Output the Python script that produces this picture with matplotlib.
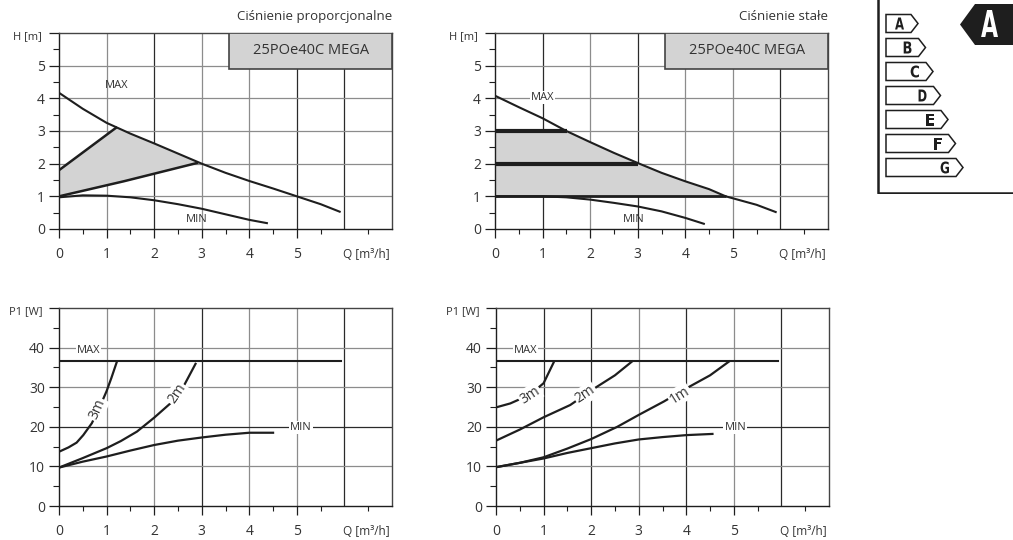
import numpy as np
import matplotlib.pyplot as plt
from matplotlib.patches import Rectangle, Polygon, PathPatch
from matplotlib.textpath import TextPath
from matplotlib.font_manager import FontProperties
from matplotlib.transforms import Affine2D

plt.rcParams["font.family"] = ["Open Sans", "DejaVu Sans"]

# ---- data ----
# top left: proportional pressure, H [m]
q_max_tl = [0, 0.5, 1, 1.5, 2, 2.5, 3, 3.5, 4, 4.5, 5, 5.5, 5.9]
h_max_tl = [4.17, 3.68, 3.25, 2.92, 2.62, 2.31, 2.0, 1.72, 1.47, 1.24, 1.0, 0.76, 0.53]
q_min_tl = [0, 0.5, 1, 1.5, 2, 2.5, 3, 3.5, 4, 4.37]
h_min_tl = [0.97, 1.03, 1.02, 0.97, 0.88, 0.76, 0.62, 0.45, 0.28, 0.18]
q_prop_hi = [0, 1.2]
h_prop_hi = [1.8, 3.1]
q_prop_lo = [0, 1.36, 2.9]
h_prop_lo = [1.0, 1.46, 2.02]

# top right: constant pressure, H [m]
q_max_tr = [0, 0.5, 1, 1.5, 2, 2.5, 3, 3.5, 4, 4.5, 4.85, 5.5, 5.9]
h_max_tr = [4.08, 3.73, 3.39, 3.0, 2.66, 2.33, 2.02, 1.72, 1.46, 1.22, 1.0, 0.74, 0.52]
q_min_tr = [0, 0.5, 1, 1.5, 2, 2.5, 3, 3.5, 4, 4.39]
h_min_tr = [1.0, 1.0, 1.0, 0.97, 0.9, 0.8, 0.69, 0.54, 0.34, 0.16]
h_const = [3, 2, 1]
q_const_end = [1.52, 3.0, 4.85]

# bottom left: power, proportional
p_max = 36.5
q_max_end = 5.93
q_3m_bl = [0, 0.2, 0.37, 0.51, 0.69, 0.86, 1.0, 1.1, 1.21]
p_3m_bl = [13.7, 14.8, 16.0, 17.9, 20.9, 25.1, 29.0, 32.3, 36.2]
q_2m_bl = [0, 0.5, 1, 1.3, 1.64, 2, 2.34, 2.6, 2.87]
p_2m_bl = [9.7, 12.1, 14.6, 16.4, 18.8, 22.3, 25.9, 29.8, 35.9]
q_min_bl = [0, 0.5, 1, 1.5, 2, 2.5, 3, 3.5, 4, 4.5]
p_min_bl = [9.7, 11.2, 12.5, 14.0, 15.4, 16.5, 17.3, 18.0, 18.5, 18.5]

# bottom right: power, constant
q_3m_br = [0, 0.3, 0.6, 0.8, 1.0, 1.21]
p_3m_br = [24.9, 25.9, 27.5, 29.0, 31.0, 36.2]
q_2m_br = [0, 0.5, 1, 1.56, 2.12, 2.5, 2.86]
p_2m_br = [16.5, 19.3, 22.4, 25.5, 30.1, 33.0, 36.5]
q_1m_br = [0, 0.5, 1, 1.5, 2, 2.55, 3, 3.53, 4, 4.5, 4.9]
p_1m_br = [9.8, 10.9, 12.3, 14.5, 16.9, 20.0, 23.0, 26.4, 29.7, 33.0, 36.5]
q_min_br = [0, 0.5, 1, 1.5, 2, 2.5, 3, 3.5, 4, 4.55]
p_min_br = [9.8, 10.9, 12.0, 13.4, 14.6, 15.8, 16.8, 17.4, 17.9, 18.2]

energy_classes = ["A", "B", "C", "D", "E", "F", "G"]
pump_class = "A"
model_name = "25POe40C MEGA"

INK = "#1e1e1e"
TXT = "#333333"
DARK = "#2a2a2a"
LIGHT = "#8c8c8c"
SHADE = "#d3d3d3"


def setup_axes(ax, ymax, ystep, ylabel, vdark, hdark):
    ax.set_xlim(0, 7)
    ax.set_ylim(0, ymax)
    for q in range(1, 7):
        ax.axvline(q, color=DARK if q in vdark else LIGHT, lw=0.9, zorder=0)
    for h in np.arange(ystep, ymax, ystep):
        ax.axhline(h, color=DARK if h in hdark else LIGHT, lw=0.9, zorder=0)
    for s in ax.spines.values():
        s.set_color("#444444")
        s.set_linewidth(1.0)
    ax.spines["left"].set_color(INK)
    ax.spines["bottom"].set_color(INK)
    ax.set_yticks(np.arange(0, ymax + ystep / 2, ystep))
    ax.set_yticklabels([str(int(v)) for v in np.arange(0, ymax, ystep)] + [""])
    ax.set_yticks(np.arange(ystep / 2, ymax, ystep), minor=True)
    ax.set_xticks(range(0, 6))
    ax.set_xticklabels([str(v) for v in range(0, 6)])
    ax.set_xticks(np.arange(0.5, 7, 1.0), minor=True)
    ax.tick_params(axis="y", which="major", length=7, width=0.9, color=INK,
                   labelsize=10, labelcolor=TXT, pad=3)
    ax.tick_params(axis="y", which="minor", length=4, width=0.8, color=INK)
    ax.tick_params(axis="x", which="major", length=6.5, width=0.9, color=INK,
                   labelsize=10, labelcolor=TXT, pad=6.5)
    ax.tick_params(axis="x", which="minor", length=3.5, width=0.8, color=INK)
    ax.text(-0.05, 1.01, ylabel, transform=ax.transAxes, ha="right", va="top",
            fontsize=8, color=TXT)
    ax.annotate("Q [m³/h]", xy=(6.46, 0), xycoords=("data", "axes fraction"),
                xytext=(0, -13.5), textcoords="offset points",
                ha="center", va="top", fontsize=8.5, color=TXT)


def model_box(ax):
    ax.add_patch(Rectangle((3.58, 4.9), 3.42, 1.1, facecolor=SHADE,
                           edgecolor="#444444", lw=1.2, zorder=3))
    ax.text(5.29, 5.45, model_name, ha="center", va="center", fontsize=10.5,
            color=TXT, zorder=4)


def label(ax, x, y, s, rot=0, fs=8):
    ax.text(x, y, s, ha="center", va="center", rotation=rot, fontsize=fs,
            color=TXT, zorder=5, rotation_mode="anchor",
            bbox=dict(boxstyle="square,pad=0.1", fc="white", ec="none"))


def glyph(ax, s, x0, x1, y0, y1, color):
    # condensed bold letter squeezed into a pixel box (y axis points down)
    tp = TextPath((0, 0), s, size=10,
                  prop=FontProperties(family="DejaVu Sans", weight="bold"))
    v = tp.vertices
    bx0, by0 = v[:, 0].min(), v[:, 1].min()
    bx1, by1 = v[:, 0].max(), v[:, 1].max()
    tr = (Affine2D().translate(-bx0, -by0)
          .scale((x1 - x0) / (bx1 - bx0), -(y1 - y0) / (by1 - by0))
          .translate(x0, y1))
    ax.add_patch(PathPatch(tr.transform_path(tp), facecolor=color,
                           edgecolor="none", zorder=5))


fig = plt.figure(figsize=(10.13, 5.40), dpi=100)
W, H = 1013, 540
ax_tl = fig.add_axes([59 / W, 1 - 229 / H, 333 / W, 196 / H])
ax_tr = fig.add_axes([495 / W, 1 - 229 / H, 333 / W, 196 / H])
ax_bl = fig.add_axes([59 / W, 1 - 506 / H, 333 / W, 198 / H])
ax_br = fig.add_axes([496 / W, 1 - 506 / H, 333 / W, 198 / H])

# top left
ax = ax_tl
setup_axes(ax, 6, 1, "H [m]", vdark=[2, 5, 6], hdark=[])
model_box(ax)
ax.text(1.0, 1.05, "Ciśnienie proporcjonalne", transform=ax.transAxes,
        ha="right", va="bottom", fontsize=9.5, color=TXT)
qq = np.linspace(1.2, 2.9, 20)
top = np.interp(qq, q_max_tl, h_max_tl)
poly = ([(q_prop_hi[0], h_prop_hi[0]), (q_prop_hi[1], h_prop_hi[1])]
        + list(zip(qq, top))
        + list(zip(q_prop_lo[::-1], h_prop_lo[::-1])))
ax.add_patch(Polygon(poly, closed=True, facecolor=SHADE, edgecolor="none", zorder=1))
ax.plot(q_max_tl, h_max_tl, color=INK, lw=1.5, zorder=4)
ax.plot(q_min_tl, h_min_tl, color=INK, lw=1.5, zorder=4)
ax.plot(q_prop_hi, h_prop_hi, color=INK, lw=1.8, zorder=4)
ax.plot(q_prop_lo, h_prop_lo, color=INK, lw=1.8, zorder=4)
ax.text(1.21, 4.38, "MAX", ha="center", va="center", fontsize=8, color=TXT)
ax.text(2.9, 0.29, "MIN", ha="center", va="center", fontsize=8, color=TXT)

# top right
ax = ax_tr
setup_axes(ax, 6, 1, "H [m]", vdark=[1, 3, 6], hdark=[])
model_box(ax)
ax.text(1.0, 1.05, "Ciśnienie stałe", transform=ax.transAxes,
        ha="right", va="bottom", fontsize=9.5, color=TXT)
qq = np.linspace(q_const_end[0], q_const_end[2], 30)
top = np.interp(qq, q_max_tr, h_max_tr)
poly = ([(0, h_const[2]), (0, h_const[0])] + list(zip(qq, top))
        + [(q_const_end[2], h_const[2])])
ax.add_patch(Polygon(poly, closed=True, facecolor=SHADE, edgecolor="none", zorder=1))
ax.plot(q_max_tr, h_max_tr, color=INK, lw=1.5, zorder=4)
ax.plot(q_min_tr, h_min_tr, color=INK, lw=1.5, zorder=4)
for h, qe in zip(h_const, q_const_end):
    ax.plot([0, qe], [h, h], color=INK, lw=3.0 if h > 1 else 2.0,
            solid_capstyle="butt", zorder=4)
label(ax, 1.0, 4.02, "MAX")
ax.text(2.91, 0.29, "MIN", ha="center", va="center", fontsize=8, color=TXT)

# bottom left
ax = ax_bl
setup_axes(ax, 50, 10, "P1 [W]", vdark=[3, 6], hdark=[20])
ax.plot([0, q_max_end], [p_max, p_max], color=INK, lw=1.5, zorder=4)
ax.plot(q_3m_bl, p_3m_bl, color=INK, lw=1.6, zorder=4)
ax.plot(q_2m_bl, p_2m_bl, color=INK, lw=1.6, zorder=4)
ax.plot(q_min_bl, p_min_bl, color=INK, lw=1.6, zorder=4)
label(ax, 0.62, 39.2, "MAX")
label(ax, 5.08, 19.9, "MIN")
label(ax, 0.8, 24.4, "3m", rot=66, fs=10)
label(ax, 2.48, 28.3, "2m", rot=56, fs=10)

# bottom right
ax = ax_br
setup_axes(ax, 50, 10, "P1 [W]", vdark=[1, 2, 4, 6], hdark=[20])
ax.plot([0, q_max_end], [p_max, p_max], color=INK, lw=1.5, zorder=4)
ax.plot(q_3m_br, p_3m_br, color=INK, lw=1.6, zorder=4)
ax.plot(q_2m_br, p_2m_br, color=INK, lw=1.6, zorder=4)
ax.plot(q_1m_br, p_1m_br, color=INK, lw=1.6, zorder=4)
ax.plot(q_min_br, p_min_br, color=INK, lw=1.6, zorder=4)
label(ax, 0.62, 39.2, "MAX")
label(ax, 5.03, 19.9, "MIN")
label(ax, 0.71, 28.0, "3m", rot=33, fs=10)
label(ax, 1.88, 28.2, "2m", rot=34, fs=10)
label(ax, 3.86, 28.0, "1m", rot=32, fs=10)

# energy class label (pixel units, y pointing down)
ax_e = fig.add_axes([877 / W, 1 - 194 / H, 136 / W, 194 / H])
ax_e.set_xlim(0, 136)
ax_e.set_ylim(194, 0)
ax_e.axis("off")
ax_e.plot([1.2, 1.2, 136], [0, 192.5, 192.5], color=INK, lw=1.8)
for i, cls in enumerate(energy_classes):
    yc = 23.5 + 24 * i
    x0, xr = 9, 34 + 7.5 * i
    hh = 9
    ax_e.add_patch(Polygon([(x0, yc - hh), (xr, yc - hh), (xr + 7, yc),
                            (xr, yc + hh), (x0, yc + hh)], closed=True,
                           facecolor="white", edgecolor=INK, lw=1.1))
    glyph(ax_e, cls, xr - 16, xr - 7, yc - 6, yc + 6, INK)
ax_e.add_patch(Polygon([(83, 24.5), (98, 4), (136, 4), (136, 45), (98, 45)],
                       closed=True, facecolor=INK, edgecolor="none"))
glyph(ax_e, pump_class, 104, 121, 10, 37, "white")

fig.savefig("out.png", dpi=100)
